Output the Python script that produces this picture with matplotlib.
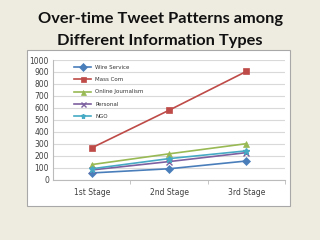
import numpy as np
import matplotlib
matplotlib.use("agg")
import matplotlib.pyplot as plt
from matplotlib.patches import Rectangle

stages = ["1st Stage", "2nd Stage", "3rd Stage"]
wire_service = [55, 90, 155]
mass_com = [265, 580, 905]
online_journalism = [125, 215, 300]
personal = [80, 150, 225]
ngo = [90, 175, 240]

series = [
    ("Wire Service", wire_service, "#4A7EBB", "D"),
    ("Mass Com", mass_com, "#BE4B48", "s"),
    ("Online Journalism", online_journalism, "#98B954", "^"),
    ("Personal", personal, "#7D60A0", "x"),
    ("NGO", ngo, "#46AAC5", "*"),
]

fig = plt.figure(figsize=(3.2, 2.4), dpi=100)
fig.patch.set_facecolor("#EEEBE0")

# white chart box with a light shadow
fig.patches.append(Rectangle((0.088, 0.136), 0.822, 0.65, transform=fig.transFigure,
                             facecolor="#D0CEC6", edgecolor="none", zorder=-2))
fig.patches.append(Rectangle((0.084, 0.142), 0.822, 0.65, transform=fig.transFigure,
                             facecolor="white", edgecolor="#A8A8A8", linewidth=0.8, zorder=-1))

fig.text(0.5, 0.922, "Over-time Tweet Patterns among", ha="center", va="center",
         fontsize=11.8, fontweight="bold", family="Lato", color="#111111")
fig.text(0.5, 0.83, "Different Information Types", ha="center", va="center",
         fontsize=11.8, fontweight="bold", family="Lato", color="#111111")

ax = fig.add_axes([0.166, 0.252, 0.725, 0.498])
ax.set_zorder(2)
ax.set_facecolor("none")
x = np.arange(len(stages))
for name, vals, col, mk in series:
    ax.plot(x, vals, color=col, marker=mk, markersize=4.5, linewidth=1.2, label=name,
            markeredgewidth=1 if mk in ("x", "*") else 0.5)

ax.set_xlim(-0.5, 2.5)
ax.set_ylim(0, 1000)
ax.set_yticks(range(0, 1001, 100))
ax.set_xticks(x)
ax.set_xticklabels(stages)
ax.tick_params(axis="both", labelsize=5.5, colors="#404040", length=0, pad=3)
ax.tick_params(axis="x", pad=6)
ax.grid(axis="y", color="#D9D9D9", linewidth=0.8)
ax.set_axisbelow(True)
for s in ["top", "right"]:
    ax.spines[s].set_visible(False)
ax.spines["left"].set_color("#BBBBBB")
ax.spines["bottom"].set_color("#BBBBBB")
ax.set_xticks([0.5, 1.5, 2.5], minor=True)
ax.tick_params(axis="x", which="minor", length=3, color="#BBBBBB")

leg = ax.legend(loc="upper left", bbox_to_anchor=(0.07, 1.0), fontsize=4, frameon=False,
                handlelength=3, labelspacing=1.3, markerscale=0.8)
for t in leg.get_texts():
    t.set_color("#333333")

fig.savefig("out.png", dpi=100, facecolor=fig.get_facecolor())
